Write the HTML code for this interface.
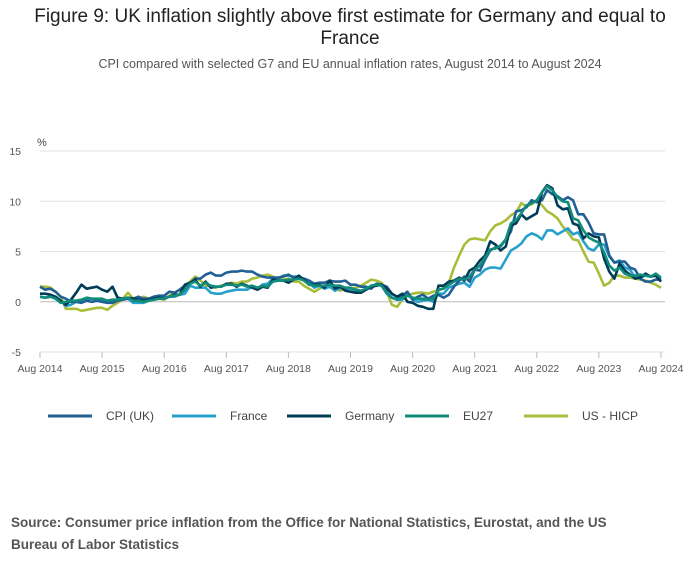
<!DOCTYPE html>
<html><head><meta charset="utf-8"><style>
body{margin:0;background:#fff;width:700px;height:574px;overflow:hidden;font-family:"Liberation Sans",sans-serif}
.t{position:absolute;left:0;width:700px;text-align:center;color:#222}
</style></head><body>
<div class="t" style="top:6px;font-size:19px;line-height:22px">Figure 9: UK inflation slightly above first estimate for Germany and equal to<br>France</div>
<div class="t" style="top:57px;font-size:12.5px;color:#555">CPI compared with selected G7 and EU annual inflation rates, August 2014 to August 2024</div>
<svg id="c" width="700" height="574" style="position:absolute;left:0;top:0" font-family="Liberation Sans, sans-serif"></svg>
<div style="position:absolute;left:11px;top:512px;font-size:13.5px;line-height:22px;font-weight:bold;color:#555">Source: Consumer price inflation from the Office for National Statistics, Eurostat, and the US<br>Bureau of Labor Statistics</div>
<script>
const yTicks=[15,10,5,0,-5];
const xLabels=["Aug 2014","Aug 2015","Aug 2016","Aug 2017","Aug 2018","Aug 2019","Aug 2020","Aug 2021","Aug 2022","Aug 2023","Aug 2024"];
const seriesNames=["CPI (UK)","France","Germany","EU27","US - HICP"];
const uk=[1.5,1.2,1.3,1.0,0.5, 0.3,0.0,0.0,-0.1,0.1,0.0,0.1,0.0,-0.1,-0.1,0.1,0.2, 0.3,0.3,0.5,0.3,0.3,0.5,0.6,0.6,1.0,0.9,1.2,1.6, 1.8,2.3,2.3,2.7,2.9,2.6,2.6,2.9,3.0,3.0,3.1,3.0, 3.0,2.7,2.5,2.4,2.4,2.4,2.5,2.7,2.4,2.4,2.3,2.1, 1.8,1.9,1.9,2.1,2.0,2.0,2.1,1.7,1.7,1.5,1.5,1.3, 1.8,1.7,1.5,0.8,0.5,0.6,1.0,0.2,0.5,0.7,0.3,0.6, 0.7,0.4,0.7,1.5,2.1,2.5,2.0,3.2,3.1,4.2,5.1,5.4, 5.5,6.2,7.0,9.0,9.1,9.4,10.1,9.9,10.1,11.1,10.7,10.5, 10.1,10.4,10.1,8.7,8.7,7.9,6.8,6.7,6.7,4.6,3.9,4.0, 4.0,3.4,3.2,2.3,2.0,2.0,2.2,2.2];
const france=[0.5,0.4,0.5,0.4,0.1, -0.4,-0.3,0.0,0.1,0.3,0.3,0.2,0.1,0.1,0.1,0.1,0.3, 0.3,-0.1,-0.1,-0.1,0.1,0.3,0.4,0.4,0.5,0.5,0.7,0.8, 1.6,1.4,1.4,1.4,0.9,0.8,0.8,1.0,1.1,1.2,1.2,1.2, 1.5,1.3,1.7,1.8,2.3,2.3,2.6,2.6,2.5,2.5,2.2,1.9, 1.4,1.6,1.3,1.5,1.1,1.4,1.3,1.3,1.1,0.9,1.2,1.6, 1.7,1.6,0.8,0.4,0.2,0.2,0.9,0.2,0.0,0.1,0.2,0.0, 0.8,0.8,1.4,1.6,1.8,1.9,1.5,2.4,2.7,3.2,3.4,3.4, 3.3,4.2,5.1,5.4,5.8,6.5,6.8,6.6,6.2,7.1,7.1,6.7, 7.0,7.3,6.7,6.9,6.0,5.3,5.1,5.7,5.7,4.5,3.9,4.1, 3.4,3.2,2.4,2.4,2.6,2.5,2.7,2.2];
const germany=[0.8,0.8,0.7,0.5,0.1, -0.3,0.2,0.9,1.7,1.3,1.4,1.5,1.2,1.0,1.5,0.4,0.3, 0.4,0.3,0.2,0.1,0.2,0.3,0.4,0.3,0.5,0.7,0.7,1.7, 1.9,2.2,1.5,2.0,1.4,1.5,1.5,1.8,1.8,1.5,1.8,1.6, 1.4,1.2,1.5,1.4,2.2,2.1,2.1,1.9,2.2,2.6,2.2,1.7, 1.7,1.7,1.4,2.1,1.3,1.5,1.1,1.0,0.9,0.9,1.2,1.5, 1.6,1.7,1.3,0.8,0.5,0.8,0.0,-0.1,-0.4,-0.5,-0.7,-0.7, 1.6,1.6,2.0,2.1,2.4,2.1,3.1,3.4,4.1,4.6,6.0,5.7, 5.1,5.5,7.6,7.8,8.7,8.2,8.5,8.8,10.9,11.6,11.3,9.6, 9.2,9.3,7.8,7.6,6.3,6.8,6.5,6.4,4.3,3.0,2.3,3.8, 3.1,2.7,2.3,2.4,2.8,2.5,2.6,2.0];
const eu27=[0.5,0.4,0.5,0.3,-0.1, 0.0,0.1,0.1,0.2,0.4,0.3,0.3,0.3,0.1,0.2,0.2,0.3, 0.4,0.1,0.1,0.0,0.1,0.2,0.3,0.3,0.5,0.6,0.7,1.2, 1.8,2.0,1.6,1.9,1.6,1.5,1.5,1.7,1.7,1.6,1.7,1.5, 1.6,1.4,1.6,1.5,2.0,2.1,2.1,2.2,2.2,2.3,2.1,1.7, 1.6,1.6,1.6,1.7,1.6,1.6,1.4,1.4,1.2,1.1,1.3,1.6, 1.7,1.6,0.9,0.4,0.2,0.4,0.6,0.4,0.3,0.3,0.2,0.3, 1.2,1.3,1.7,2.0,2.3,2.2,2.5,3.2,3.6,4.4,5.2,5.3, 5.6,6.2,7.8,8.1,8.8,9.6,9.8,10.1,10.9,11.5,11.1,10.4, 10.0,9.9,8.3,8.1,7.1,6.4,6.1,5.9,4.9,3.6,3.1,3.4, 2.8,2.6,2.6,2.7,2.6,2.5,2.8,2.4];
const us=[1.5,1.5,1.4,1.0,0.5, -0.7,-0.7,-0.7,-0.9,-0.8,-0.7,-0.6,-0.6,-0.8,-0.4,-0.1,0.3, 0.9,0.3,0.2,0.5,0.3,0.2,0.3,0.2,0.6,0.9,1.2,1.6, 2.0,2.5,2.1,1.6,1.6,1.4,1.6,1.7,1.9,1.8,2.0,2.0, 2.3,2.4,2.6,2.7,2.5,2.2,2.2,2.3,2.0,2.0,1.6,1.3, 1.0,1.3,1.6,1.7,1.4,1.1,1.3,1.3,1.4,1.6,1.9,2.2, 2.1,1.9,1.0,-0.3,-0.5,0.2,0.6,0.8,0.9,0.9,0.8,1.0, 1.1,1.4,1.9,3.4,4.6,5.7,6.2,6.3,6.2,6.1,7.0,7.6, 7.8,8.1,8.6,8.9,9.8,9.5,9.7,10.1,9.6,9.0,8.7,8.3, 7.5,6.9,6.2,6.1,5.0,4.0,3.9,2.8,1.6,1.9,2.6,2.6, 2.4,2.4,2.3,2.2,2.1,1.9,1.7,1.4];
const colors=["#206095","#27a0cc","#003c57","#118c7b","#a8bd3a"];
const NS="http://www.w3.org/2000/svg",svg=document.getElementById('c');
const x0=40,x1=661,yTop=151,yBot=352;
const xs=i=>x0+(x1-x0)*i/120;
const ys=v=>yBot-(v+5)*(yBot-yTop)/20;
function mk(t,a){const e=document.createElementNS(NS,t);for(const k in a)e.setAttribute(k,a[k]);svg.appendChild(e);return e;}
yTicks.forEach(v=>{
 const g=mk('line',{x1:x0,x2:665,y1:ys(v),y2:ys(v),stroke:v===0?'#bbb':'#e2e2e2','stroke-width':1});
 
 
 const t=mk('text',{x:21,y:ys(v)+4,'font-size':10.5,fill:'#555','text-anchor':'end'});t.textContent=v;
 
 
});
const u=mk('text',{x:37,y:146,'font-size':11,fill:'#444'});u.textContent='%';


xLabels.forEach((l,k)=>{
 const x=xs(k*12);
 const tk=mk('line',{x1:x,x2:x,y1:352,y2:358,stroke:'#bbb'});
 
 
 const t=mk('text',{x:x,y:372,'font-size':10.5,fill:'#555','text-anchor':'middle'});t.textContent=l;
 
 
});
const all=[uk,france,germany,eu27,us];
[4,1,0,2,3].forEach(s=>{
 const d=all[s].map((v,i)=>(i?'L':'M')+xs(i).toFixed(1)+' '+ys(v).toFixed(1)).join('');
 const p=mk('path',{d:d,fill:'none',stroke:colors[s],'stroke-width':2.6,'stroke-linejoin':'round'});
 
 
});
const lx=[48,172,287,405,524];
seriesNames.forEach((n,s)=>{
 const l=mk('line',{x1:lx[s],x2:lx[s]+44,y1:416,y2:416,stroke:colors[s],'stroke-width':3});
 
 
 const t=mk('text',{x:lx[s]+58,y:420,'font-size':12,fill:'#444'});t.textContent=n;
 
 
});
</script>
</body></html>
